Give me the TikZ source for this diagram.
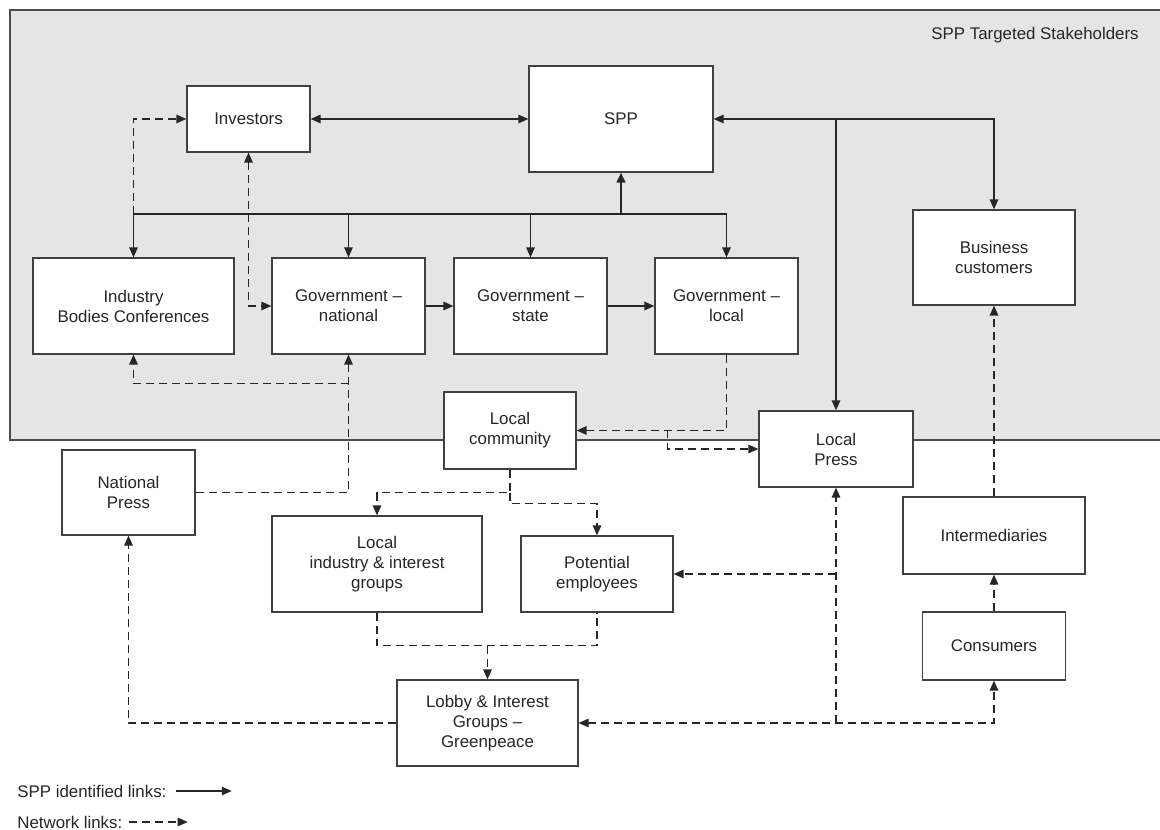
\documentclass[tikz,border=0pt]{standalone}
\usepackage{fontspec}
\setmainfont{Liberation Sans}
\usetikzlibrary{arrows.meta, positioning}

\begin{document}
\begin{tikzpicture}[x=0.02cm, y=-0.02cm,
    font=\fontsize{9.6}{11.4}\selectfont, text=black!85,
    >={Triangle[length=2mm, width=1.7mm]},
    box style/.style 2 args={draw=black!75, fill=white, align=center, line width=0.7pt,
        minimum width=#1*0.2mm, minimum height=#2*0.2mm, inner sep=2pt},
    link style/.style={draw=black!85, line width=0.8pt},
    net style/.style={link style, dash pattern=on 1.6mm off 1mm}
]
    \useasboundingbox (0,0) rectangle (1160,830);

    % stakeholder area
    \fill[black!10] (10,10) rectangle (1160,440);
    \draw[black!70, line width=0.7pt] (1160,10) -- (10,10) -- (10,440) -- (1160,440);
    \node[anchor=east, inner sep=0pt] (title) at (1139,35) {SPP Targeted Stakeholders};

    \node[box style={123}{66}] (inv) at (248.5,119) {Investors};
    \node[box style={184}{106}] (spp) at (621,119) {SPP};
    \node[box style={162}{95}] (busc) at (994,257.5) {Business\\customers};
    \node[box style={201}{96}] (ind) at (133.5,306) {Industry\\Bodies Conferences};
    \node[box style={153}{96}] (gnat) at (348.5,306) {Government --\\national};
    \node[box style={153}{96}] (gsta) at (530.5,306) {Government --\\state};
    \node[box style={143}{96}] (gloc) at (726.5,306) {Government --\\local};
    \node[box style={132}{77}] (lcom) at (510,430.5) {Local\\community};
    \node[box style={154}{76}] (lpress) at (836,449) {Local\\Press};
    \node[box style={133}{85}] (npress) at (128.5,492.5) {National\\Press};
    \node[box style={210}{96}] (lind) at (377,564) {Local\\industry \& interest\\groups};
    \node[box style={152}{76}] (pemp) at (597,574) {Potential\\employees};
    \node[box style={182}{77}] (inter) at (994,535.5) {Intermediaries};
    \node[box style={143}{68}] (cons) at (994,646) {Consumers};
    \node[box style={181}{86}] (lobby) at (487.5,723) {Lobby \& Interest\\Groups --\\Greenpeace};

    % SPP identified links
    \coordinate (hub) at (621,214);
    \draw[link style,<->] (inv.east) -- (spp.west);
    \draw[link style, line width=1pt] (ind.north |- hub) -- (hub);
    \draw[link style] (hub) -- (gloc.north |- hub);
    \draw[link style, line width=1.4pt, ->] (hub) -- (spp.south);
    \foreach \n in {ind, gnat, gsta, gloc}
        \draw[link style,->] (\n.north |- hub) -- (\n.north);
    \draw[link style,->] (gnat) -- (gsta);
    \draw[link style,->] (gsta) -- (gloc);
    \draw[link style,<->] (spp.east) -| (busc.north);
    \draw[link style,->] (spp.east -| lpress.north) -- (lpress.north);

    % network links
    \draw[net style,->] (ind.north |- hub) |- (inv.west);
    \draw[net style,<->] (inv.south) |- (gnat.west);
    \draw[net style,->] (npress.east) -| (gnat.south);
    \draw[net style,->] (gnat.south) ++(0,29) -| (ind.south);
    \draw[net style,->] (gloc.south) |- (lcom.east);
    \draw[net style,->] (gloc.south |- lcom.east) ++(-59,0) |- (lpress.west);
    \draw[net style,->] (lcom.south) -- ++(0,23) -| (lind.north);
    \draw[net style,->] (lcom.south) ++(0,23) -- ++(0,11) -| (pemp.north);
    \draw[net style] (lind.south) -- ++(0,33) -| (pemp.south);
    \draw[net style,->] (lind.south) ++(110.5,33) -- (lobby.north);
    \draw[net style,->] (lobby.west) -| (npress.south);
    \draw[net style,<->] (lobby.east) -| (cons.south);
    \draw[net style,->] (lpress.south |- lobby.east) -- (lpress.south);
    \draw[net style,->] (lpress.south |- pemp.east) -- (pemp.east);
    \draw[net style,->] (cons) -- (inter);
    \draw[net style,->] (inter) -- (busc);

    % legend
    \node[anchor=west, inner sep=0pt] (leg1) at (17,791) {SPP identified links:};
    \draw[link style,->] (leg1.east) ++(9,0) -- ++(56,0);
    \node[anchor=west, inner sep=0pt] (leg2) at (17,822) {Network links:};
    \draw[net style,->] (leg2.east) ++(6,0) -- ++(59,0);
\end{tikzpicture}
\end{document}
